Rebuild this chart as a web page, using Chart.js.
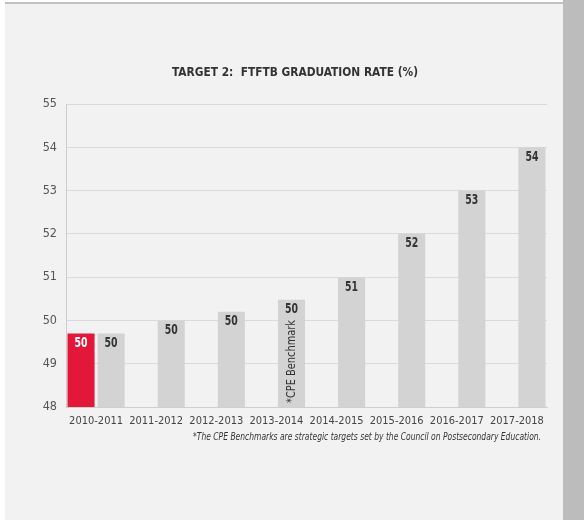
<!DOCTYPE html>
<html>
<head>
<meta charset="utf-8">
<title>Target 2: FTFTB Graduation Rate</title>
<script src="https://cdn.jsdelivr.net/npm/chart.js@4"></script>
<style>
  html, body { margin: 0; padding: 0; background: #fff; }
  #panel {
    position: absolute; left: 5px; top: 2px; width: 558px; height: 518px;
    background: #f2f2f2; border-top: 2px solid #c2c2c2;
  }
  #side {
    position: absolute; left: 563px; top: 0; width: 21px; height: 520px;
    background: #bcbcbc;
  }
  #wrap { position: absolute; left: 5px; top: 4px; width: 558px; height: 516px; }
</style>
</head>
<body>
<div id="panel"></div>
<div id="side"></div>
<div id="wrap"><canvas id="myChart"></canvas></div>
<script>
const years = ['2010-2011', '2011-2012', '2012-2013', '2013-2014', '2014-2015', '2015-2016', '2016-2017', '2017-2018'];
// actual rate only exists for the first year, the rest are CPE targets
const actual = [49.7, null, null, null, null, null, null, null];
const benchmark = [49.7, 50, 50.2, 50.48, 51, 52, 53, 54];
const yTicks = [48, 49, 50, 51, 52, 53, 54, 55];

const titleText = 'TARGET 2:  FTFTB GRADUATION RATE (%)';
const noteText = '*The CPE Benchmarks are strategic targets set by the Council on Postsecondary Education.';
const benchmarkTag = '*CPE Benchmark';
const tagYear = '2013-2014';

const narrow = "'Liberation Sans Narrow', 'DejaVu Sans Condensed', sans-serif";
Chart.defaults.font.family = narrow;

// title, footnote, value labels and the rotated benchmark tag
const textPlugin = {
    id: 'textBits',
    afterDatasetsDraw(chart) {
        const c = chart.ctx;
        const area = chart.chartArea;
        c.save();

        c.fillStyle = '#333';
        c.font = 'bold 13px ' + narrow;
        c.textAlign = 'center';
        c.textBaseline = 'middle';
        c.fillText(titleText, (area.left + area.right) / 2 - 11.5, 69, 246);

        c.font = 'italic 10px ' + narrow;
        c.textAlign = 'right';
        c.fillText(noteText, area.right - 6, area.bottom + 30, 348);

        chart.data.datasets.forEach((ds, i) => {
            const meta = chart.getDatasetMeta(i);
            meta.data.forEach((bar, k) => {
                const v = ds.data[k];
                if (v == null) return;
                c.font = 'bold 13.5px ' + narrow;
                c.textAlign = 'center';
                c.textBaseline = 'middle';
                c.fillStyle = i === 0 ? '#fff' : '#333';
                c.fillText(String(Math.round(v)), bar.x, bar.y + 10, 13);
            });
        });

        const k = years.indexOf(tagYear);
        const bar = chart.getDatasetMeta(1).data[k];
        c.translate(bar.x, area.bottom - 4);
        c.rotate(-Math.PI / 2);
        c.font = '13px ' + narrow;
        c.textAlign = 'left';
        c.textBaseline = 'middle';
        c.fillStyle = '#333';
        c.fillText(benchmarkTag, 0, 0, 83);
        c.restore();
    }
};

const ctx = document.getElementById('myChart').getContext('2d');
const chart = new Chart(ctx, {
    type: 'bar',
    data: {
        labels: years,
        datasets: [{
            label: 'Actual',
            data: actual,
            backgroundColor: '#e2173a',
            categoryPercentage: 1.0,
            barPercentage: 0.9
        }, {
            label: 'CPE Benchmark',
            data: benchmark,
            backgroundColor: '#d3d3d3',
            categoryPercentage: 1.0,
            barPercentage: 0.9
        }]
    },
    options: {
        responsive: true,
        maintainAspectRatio: false,
        animation: false,
        layout: { padding: { top: 100, right: 16, bottom: 83, left: 0 } },
        plugins: {
            legend: { display: false },
            tooltip: { enabled: false }
        },
        scales: {
            x: {
                grid: { display: false, drawTicks: false },
                border: { display: true, color: '#cfcfcf' },
                ticks: { color: '#444', font: { size: 11 }, padding: 8, maxRotation: 0, autoSkip: false },
                afterFit(scale) { scale.height = 30; }
            },
            y: {
                min: 48,
                max: 55,
                afterBuildTicks(scale) { scale.ticks = yTicks.map(v => ({ value: v })); },
                grid: { color: '#dadada', drawTicks: false },
                border: { display: true, color: '#cfcfcf' },
                ticks: { color: '#555', font: { size: 12.5 }, padding: 9 },
                afterFit(scale) { scale.width = 61; }
            }
        }
    },
    plugins: [textPlugin]
});
</script>
</body>
</html>
